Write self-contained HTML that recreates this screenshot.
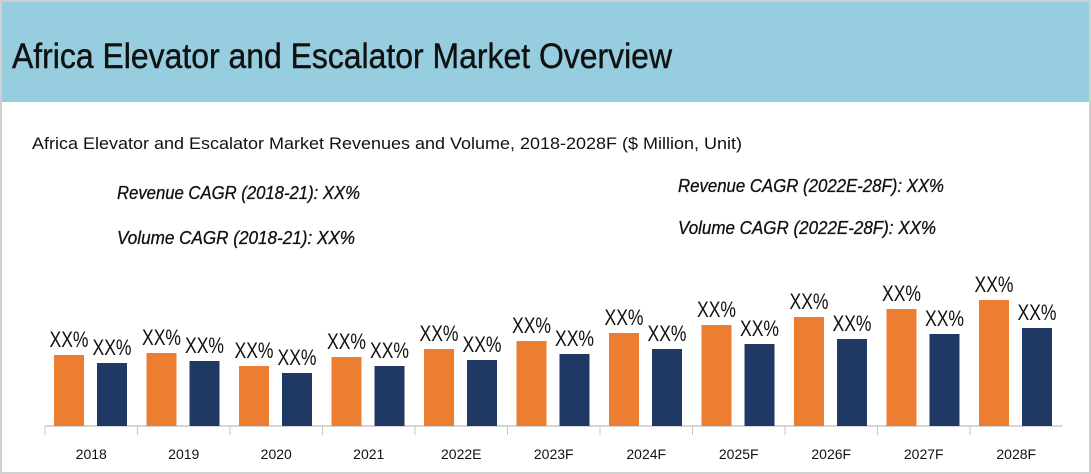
<!DOCTYPE html>
<html><head><meta charset="utf-8"><style>
body{margin:0;background:#fff;}
#wrap{position:relative;width:1091px;height:474px;overflow:hidden;font-family:"Liberation Sans",sans-serif;}
</style></head><body>
<div id="wrap">
<svg width="1091" height="474" xmlns="http://www.w3.org/2000/svg" id="svg">
<rect x="1" y="1" width="1089" height="472" fill="#fff" stroke="#d0d0d0" stroke-width="2"/>
<rect x="2" y="2" width="1087" height="100" fill="#96cddf"/>
<text x="12" y="68" font-size="35" fill="#111" stroke="#111" stroke-width="0.4" textLength="660" lengthAdjust="spacingAndGlyphs">Africa Elevator and Escalator Market Overview</text>
<text x="32" y="149" font-size="17" fill="#111" textLength="710" lengthAdjust="spacingAndGlyphs">Africa Elevator and Escalator Market Revenues and Volume, 2018-2028F ($ Million, Unit)</text>
<text x="117" y="199" font-size="18" font-style="italic" fill="#111" stroke="#111" stroke-width="0.3" textLength="243" lengthAdjust="spacingAndGlyphs">Revenue CAGR (2018-21): XX%</text>
<text x="117" y="244" font-size="18" font-style="italic" fill="#111" stroke="#111" stroke-width="0.3" textLength="238" lengthAdjust="spacingAndGlyphs">Volume CAGR (2018-21): XX%</text>
<text x="678" y="192" font-size="18" font-style="italic" fill="#111" stroke="#111" stroke-width="0.3" textLength="266" lengthAdjust="spacingAndGlyphs">Revenue CAGR (2022E-28F): XX%</text>
<text x="678" y="234" font-size="18" font-style="italic" fill="#111" stroke="#111" stroke-width="0.3" textLength="258" lengthAdjust="spacingAndGlyphs">Volume CAGR (2022E-28F): XX%</text>
<g id="plot"></g>
</svg>
</div>
<script>
const categories=["2018","2019","2020","2021","2022E","2023F","2024F","2025F","2026F","2027F","2028F"];
const revenue=[71,73,60,69,77,85,93,101,109,117,126];
const volume=[63,65,53,60,66,72,77,82,87,92,98];
const labels=["XX%","XX%","XX%","XX%","XX%","XX%","XX%","XX%","XX%","XX%","XX%"];
const NS="http://www.w3.org/2000/svg";
const g=document.getElementById('plot');
const x0=45,slot=92.5,base=426;
const xs=i=>x0+i*slot;
const ys=v=>base-v;
function mk(t,a){const e=document.createElementNS(NS,t);for(const k in a)e.setAttribute(k,a[k]);g.appendChild(e);return e;}
const ax=mk('line',{x1:x0,y1:base,x2:x0+categories.length*slot,y2:base,stroke:'#c8c8c8','stroke-width':1.5});


categories.forEach((c,i)=>{
  const tk=mk('line',{x1:xs(i),y1:base,x2:xs(i),y2:base+9,stroke:'#c8c8c8','stroke-width':1});
  
  
  const ob=mk('rect',{x:xs(i)+9,y:ys(revenue[i]),width:30,height:revenue[i],fill:'#ed7d31'});
  
  
  const nb=mk('rect',{x:xs(i)+52,y:ys(volume[i]),width:30,height:volume[i],fill:'#1f3864'});
  
  
  const ol=mk('text',{x:xs(i)+24,y:ys(revenue[i])-8,'font-size':22,'text-anchor':'middle',fill:'#111',textLength:39,lengthAdjust:'spacingAndGlyphs'});
  ol.textContent=labels[i];
  
  
  const nl=mk('text',{x:xs(i)+67,y:ys(volume[i])-8,'font-size':22,'text-anchor':'middle',fill:'#111',textLength:39,lengthAdjust:'spacingAndGlyphs'});
  nl.textContent=labels[i];
  
  
  const cl=mk('text',{x:xs(i)+slot/2,y:459,'font-size':14,'text-anchor':'middle',fill:'#111'});
  cl.textContent=c;
  
  
});
</script>
</body></html>
